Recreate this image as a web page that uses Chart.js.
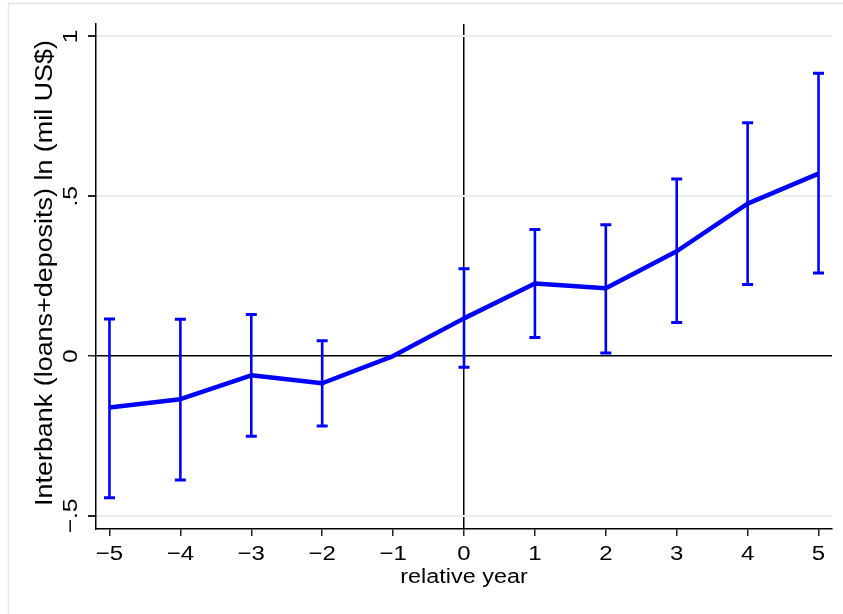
<!DOCTYPE html>
<html>
<head>
<meta charset="utf-8">
<script src="https://cdn.jsdelivr.net/npm/chart.js@4.4.1/dist/chart.umd.min.js"></script>
<style>
  html, body { margin: 0; padding: 0; background: #ffffff; }
  #wrap { width: 843px; height: 614px; position: relative; }
</style>
</head>
<body>
<div id="wrap"><canvas id="c" width="843" height="614"></canvas></div>
<script>
// Event-study estimates by year relative to the event (year -1 is the reference year)
const relYear = [-5, -4, -3, -2, -1, 0, 1, 2, 3, 4, 5];
const coef    = [-0.161, -0.135, -0.060, -0.085, 0, 0.118, 0.227, 0.2125, 0.328, 0.477, 0.571];
const ciLow   = [-0.443, -0.388, -0.251, -0.219, null, -0.035, 0.058, 0.010, 0.105, 0.224, 0.260];
const ciHigh  = [0.116, 0.115, 0.130, 0.048, null, 0.273, 0.396, 0.411, 0.554, 0.730, 0.885];

const xTickLabels = ['\u22125', '\u22124', '\u22123', '\u22122', '\u22121', '0', '1', '2', '3', '4', '5'];
const yTickValues = [-0.5, 0, 0.5, 1];
const yTickLabels = ['\u2212.5', '0', '.5', '1'];
const xTitle = 'relative year';
const yTitle = 'Interbank (loans+deposits) ln (mil US$)';

const FAMILY = '"Liberation Sans", Arial, sans-serif';
const WIDE = 1.17;     // glyphs are set a little wider than the face's natural width
const BLUE = '#0000ff';

function wideText(ctx, text, x, y, rotate, size, align) {
  ctx.save();
  ctx.translate(x, y);
  if (rotate) ctx.rotate(-Math.PI / 2);
  ctx.scale(WIDE, 1);
  ctx.font = size + 'px ' + FAMILY;
  ctx.fillStyle = '#000000';
  ctx.textAlign = align || 'center';
  ctx.textBaseline = 'alphabetic';
  ctx.fillText(text, 0, 0);
  ctx.restore();
}

// White background, faint outer frame, then all axis texts
const frameAndText = {
  id: 'frameAndText',
  beforeDraw(chart) {
    const ctx = chart.ctx;
    ctx.save();
    ctx.fillStyle = '#ffffff';
    ctx.fillRect(0, 0, chart.width, chart.height);
    ctx.strokeStyle = '#e2eaec';
    ctx.lineWidth = 1.5;
    ctx.strokeRect(8.5, 3.5, 900, 900);
    ctx.restore();
  },
  afterDraw(chart) {
    const ctx = chart.ctx;
    const xs = chart.scales.x, ys = chart.scales.y, area = chart.chartArea;
    relYear.forEach((v, i) => {
      wideText(ctx, xTickLabels[i], xs.getPixelForValue(v), 559.5, false, 20.5);
    });
    yTickValues.forEach((v, i) => {
      wideText(ctx, yTickLabels[i], 77, ys.getPixelForValue(v), true, 21);
    });
    wideText(ctx, xTitle, (area.left + area.right) / 2, 582.5, false, 20);
    wideText(ctx, yTitle, 51.5, 273, true, 23);
  }
};

// Confidence-interval whiskers with caps
const errorBars = {
  id: 'errorBars',
  beforeDatasetsDraw(chart) {
    const ctx = chart.ctx;
    const xs = chart.scales.x, ys = chart.scales.y;
    ctx.save();
    ctx.strokeStyle = BLUE;
    relYear.forEach((v, i) => {
      if (ciLow[i] === null || ciHigh[i] === null) return;
      const px = xs.getPixelForValue(v);
      const yl = ys.getPixelForValue(ciLow[i]);
      const yh = ys.getPixelForValue(ciHigh[i]);
      ctx.lineWidth = 2.6;
      ctx.beginPath();
      ctx.moveTo(px, yh);
      ctx.lineTo(px, yl);
      ctx.stroke();
      ctx.lineWidth = 3;
      ctx.beginPath();
      ctx.moveTo(px - 5.5, yh); ctx.lineTo(px + 5.5, yh);
      ctx.moveTo(px - 5.5, yl); ctx.lineTo(px + 5.5, yl);
      ctx.stroke();
    });
    ctx.restore();
  }
};

new Chart(document.getElementById('c'), {
  type: 'line',
  data: {
    datasets: [{
      data: relYear.map((x, i) => ({ x: x, y: coef[i] })),
      borderColor: BLUE,
      borderWidth: 4.5,
      pointRadius: 0,
      tension: 0,
      fill: false,
      borderJoinStyle: 'round'
    }]
  },
  options: {
    responsive: false,
    animation: false,
    devicePixelRatio: 1,
    layout: { padding: { top: 24, right: 11, bottom: 0, left: 0 } },
    plugins: { legend: { display: false }, tooltip: { enabled: false } },
    scales: {
      x: {
        type: 'linear',
        min: -5.19,
        max: 5.19,
        afterBuildTicks: s => { s.ticks = relYear.map(v => ({ value: v })); },
        afterFit: s => { s.height = 85; },
        ticks: { display: false },
        grid: {
          drawOnChartArea: true,
          color: c => (c.tick && c.tick.value === 0) ? '#000000' : 'rgba(0,0,0,0)',
          lineWidth: 1.5,
          tickColor: '#222222',
          tickLength: 7
        },
        border: { display: true, color: '#000000', width: 1.5 }
      },
      y: {
        type: 'linear',
        min: -0.541,
        max: 1.039,
        afterBuildTicks: s => { s.ticks = yTickValues.map(v => ({ value: v })); },
        afterFit: s => { s.width = 96; },
        ticks: { display: false },
        grid: {
          color: c => (c.tick && c.tick.value === 0) ? '#000000' : '#e6eef0',
          lineWidth: c => (c.tick && c.tick.value === 0) ? 1.5 : 2,
          tickColor: '#222222',
          tickLength: 8
        },
        border: { display: true, color: '#000000', width: 1.5 }
      }
    }
  },
  plugins: [frameAndText, errorBars]
});
</script>
</body>
</html>
